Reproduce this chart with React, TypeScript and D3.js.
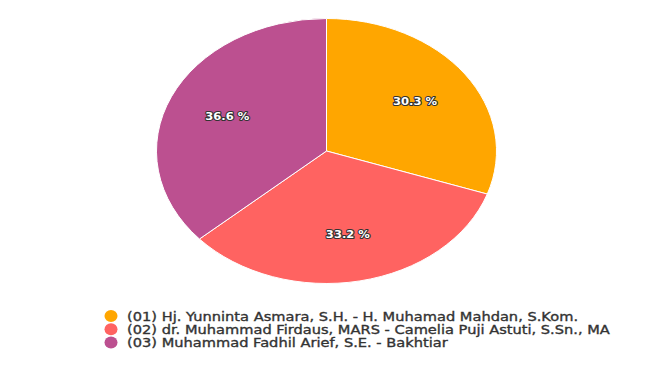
import React, { useEffect, useRef } from "react";
import * as d3 from "d3";

const labels = [
  "(01) Hj. Yunninta Asmara, S.H. - H. Muhamad Mahdan, S.Kom.",
  "(02) dr. Muhammad Firdaus, MARS - Camelia Puji Astuti, S.Sn., MA",
  "(03) Muhammad Fadhil Arief, S.E. - Bakhtiar",
];
const shares = [30.3, 33.2, 36.6];
const colors = ["#ffa600", "#ff6361", "#bc5090"];

const App = () => {
  const svgRef = useRef<SVGSVGElement>(null);

  useEffect(() => {
    const width = 653;
    const height = 366;
    const cx = 326.5;
    const cy = 151;
    const rx = 170;
    const ry = 132.5;
    const sx = rx / ry;

    const svg = d3.select(svgRef.current).attr("width", width).attr("height", height);
    svg.selectAll("*").remove();

    svg.append("rect").attr("width", width).attr("height", height).attr("fill", "#ffffff");

    const pie = d3.pie<number>().sort(null).value((d) => d);
    const arcs = pie(shares);

    const arc = d3.arc<d3.PieArcDatum<number>>().innerRadius(0).outerRadius(ry);
    const labelArc = d3.arc<d3.PieArcDatum<number>>().innerRadius(ry * 0.64).outerRadius(ry * 0.64);

    // pie is stretched horizontally, like the source picture
    const g = svg.append("g").attr("transform", `translate(${cx},${cy}) scale(${sx},1)`);
    g.selectAll("path")
      .data(arcs)
      .join("path")
      .attr("d", arc)
      .attr("fill", (_, i) => colors[i])
      .attr("stroke", "#ffffff")
      .attr("stroke-width", 1)
      .attr("vector-effect", "non-scaling-stroke");

    svg.append("g")
      .selectAll("text")
      .data(arcs)
      .join("text")
      .attr("transform", (d) => {
        const [lx, ly] = labelArc.centroid(d);
        return `translate(${cx + lx * sx},${cy + ly}) scale(1.05,1)`;
      })
      .attr("text-anchor", "middle")
      .attr("dominant-baseline", "central")
      .attr("fill", "#ffffff")
      .attr("stroke", "#333333")
      .attr("stroke-width", 2.2)
      .attr("stroke-linejoin", "round")
      .attr("paint-order", "stroke")
      .style("font-family", "DejaVu Sans, sans-serif")
      .style("font-size", "11px")
      .style("font-weight", "bold")
      .text((d) => `${d.data} %`);

    // legend
    const legend = svg.append("g").attr("transform", "translate(111,316)");
    const items = legend
      .selectAll("g")
      .data(labels)
      .join("g")
      .attr("transform", (_, i) => `translate(0,${i * 13.3})`);
    items.append("ellipse")
      .attr("rx", 6.5)
      .attr("ry", 6)
      .attr("fill", (_, i) => colors[i]);
    items.append("text")
      .attr("transform", "translate(16,0) scale(1.17,1)")
      .attr("dy", "0.36em")
      .attr("fill", "#333333")
      .attr("stroke", "#333333")
      .attr("stroke-width", 0.35)
      .style("font-family", "DejaVu Sans, sans-serif")
      .style("font-size", "12.5px")
      .text((d) => d);
  }, []);

  return (
    <div style={{ position: "fixed", left: 0, top: 0 }}>
      <svg ref={svgRef} style={{ display: "block" }}></svg>
    </div>
  );
};

export default App;
